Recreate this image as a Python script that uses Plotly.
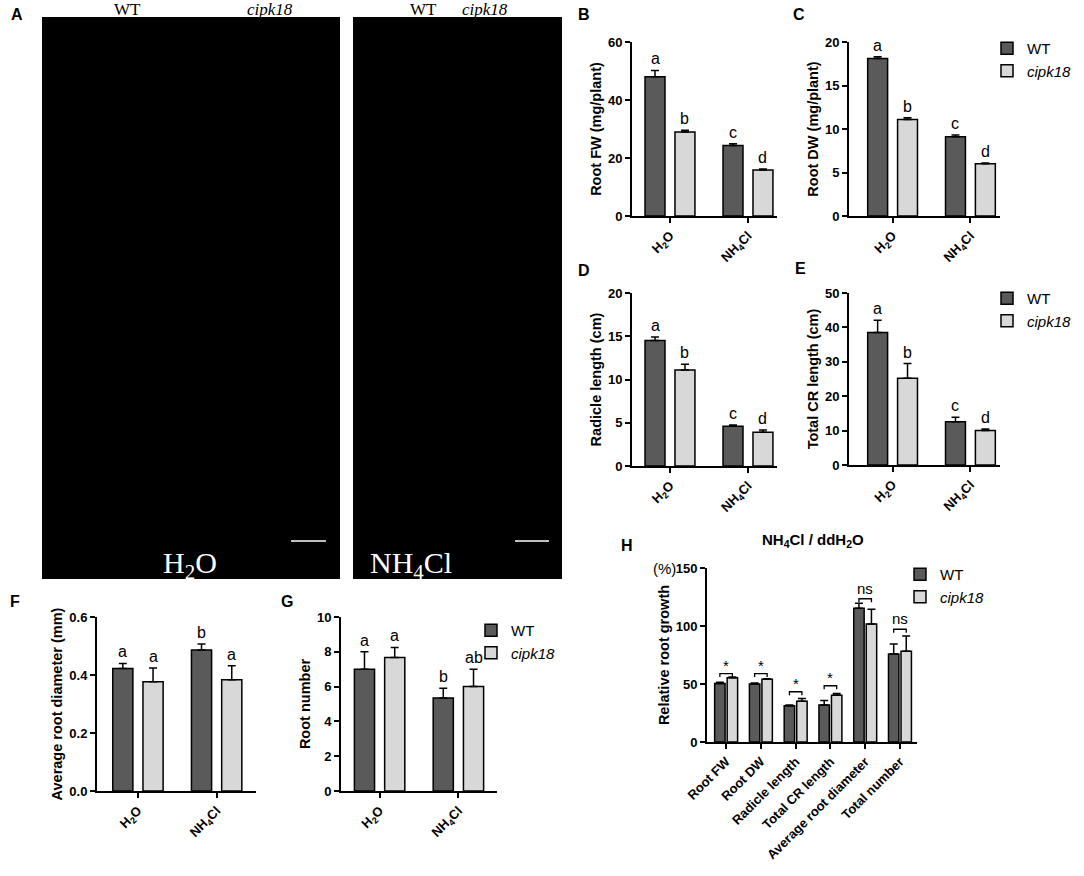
import plotly.graph_objects as go

W, H = 1084, 876

# x categories of panels B-G
conditions = ["H<sub>2</sub>O", "NH<sub>4</sub>Cl"]

# B - root fresh weight (mg/plant)
fw_wt = [48.0, 24.3]
fw_wt_sd = [2.2, 0.6]
fw_cipk = [29.0, 15.9]
fw_cipk_sd = [0.6, 0.3]
fw_letters_wt = ["a", "c"]
fw_letters_cipk = ["b", "d"]

# C - root dry weight (mg/plant)
dw_wt = [18.1, 9.1]
dw_wt_sd = [0.2, 0.2]
dw_cipk = [11.1, 6.0]
dw_cipk_sd = [0.2, 0.1]
dw_letters_wt = ["a", "c"]
dw_letters_cipk = ["b", "d"]

# D - radicle length (cm)
rl_wt = [14.5, 4.6]
rl_wt_sd = [0.4, 0.15]
rl_cipk = [11.1, 3.9]
rl_cipk_sd = [0.65, 0.25]
rl_letters_wt = ["a", "c"]
rl_letters_cipk = ["b", "d"]

# E - total crown root length (cm)
cr_wt = [38.5, 12.6]
cr_wt_sd = [3.6, 1.3]
cr_cipk = [25.2, 10.0]
cr_cipk_sd = [4.3, 0.5]
cr_letters_wt = ["a", "c"]
cr_letters_cipk = ["b", "d"]

# F - average root diameter (mm)
ad_wt = [0.422, 0.486]
ad_wt_sd = [0.018, 0.021]
ad_cipk = [0.377, 0.384]
ad_cipk_sd = [0.047, 0.048]
ad_letters_wt = ["a", "b"]
ad_letters_cipk = ["a", "a"]

# G - root number
rn_wt = [7.0, 5.34]
rn_wt_sd = [1.0, 0.56]
rn_cipk = [7.67, 6.0]
rn_cipk_sd = [0.58, 1.0]
rn_letters_wt = ["a", "b"]
rn_letters_cipk = ["a", "ab"]

# H - relative root growth NH4Cl / ddH2O (%)
traits = ["Root FW", "Root DW", "Radicle length", "Total CR length",
          "Average root diameter", "Total number"]
rel_wt = [50.5, 49.9, 31.2, 32.0, 115.4, 75.9]
rel_wt_sd = [1.1, 0.9, 0.8, 3.8, 4.3, 8.6]
rel_cipk = [55.4, 54.0, 35.2, 40.4, 101.8, 78.2]
rel_cipk_sd = [0.6, 0.5, 2.3, 1.4, 12.7, 13.2]
rel_sig = ["*", "*", "*", "*", "ns", "ns"]
rel_bracket = [59.0, 59.0, 43.3, 48.5, 123.5, 97.2]

WT_COLOR = "#5a5a5a"
CIPK_COLOR = "#d8d8d8"
SANS = "Arial, Liberation Sans, sans-serif"
SERIF = "Times New Roman, Liberation Serif, serif"


def xdom(a, b):
    return [a / W, b / W]


def ydom(top, bottom):
    return [1 - bottom / H, 1 - top / H]


def ax(n):
    return ("x", "y") if n == 1 else (f"x{n}", f"y{n}")


panels = [
    dict(n=1, title="Root FW (mg/plant)", ymax=60, dtick=20, fmt="", xd=(632, 777), yd=(42, 216),
         xr=(-0.487, 1.372), wt=fw_wt, wt_sd=fw_wt_sd, mu=fw_cipk, mu_sd=fw_cipk_sd,
         lw=fw_letters_wt, lm=fw_letters_cipk, legend=None),
    dict(n=2, title="Root DW (mg/plant)", ymax=20, dtick=5, fmt="", xd=(849, 1000), yd=(42, 216),
         xr=(-0.56, 1.38), wt=dw_wt, wt_sd=dw_wt_sd, mu=dw_cipk, mu_sd=dw_cipk_sd,
         lw=dw_letters_wt, lm=dw_letters_cipk, legend="legend"),
    dict(n=3, title="Radicle length (cm)", ymax=20, dtick=5, fmt="", xd=(632, 777), yd=(293, 466),
         xr=(-0.487, 1.372), wt=rl_wt, wt_sd=rl_wt_sd, mu=rl_cipk, mu_sd=rl_cipk_sd,
         lw=rl_letters_wt, lm=rl_letters_cipk, legend=None),
    dict(n=4, title="Total CR length (cm)", ymax=50, dtick=10, fmt="", xd=(849, 1000), yd=(293, 465),
         xr=(-0.56, 1.38), wt=cr_wt, wt_sd=cr_wt_sd, mu=cr_cipk, mu_sd=cr_cipk_sd,
         lw=cr_letters_wt, lm=cr_letters_cipk, legend="legend2"),
    dict(n=5, title="Average root diameter (mm)", ymax=0.6, dtick=0.2, fmt=".1f", xd=(97, 256), yd=(617, 791),
         xr=(-0.52, 1.5), wt=ad_wt, wt_sd=ad_wt_sd, mu=ad_cipk, mu_sd=ad_cipk_sd,
         lw=ad_letters_wt, lm=ad_letters_cipk, legend=None),
    dict(n=6, title="Root number", ymax=10, dtick=2, fmt="", xd=(341, 497), yd=(617, 791),
         xr=(-0.49, 1.49), wt=rn_wt, wt_sd=rn_wt_sd, mu=rn_cipk, mu_sd=rn_cipk_sd,
         lw=rn_letters_wt, lm=rn_letters_cipk, legend="legend3"),
]

fig = go.Figure()
annotations = []
layout_axes = {}


def axis_style(n, p, cats, xr, ymax, dtick, fmt, title):
    xk = "xaxis" if n == 1 else f"xaxis{n}"
    yk = "yaxis" if n == 1 else f"yaxis{n}"
    xa, ya = ax(n)
    common = dict(showline=True, linecolor="black", linewidth=2, ticks="outside", ticklen=5,
                  tickwidth=2, tickcolor="black", showgrid=False, zeroline=False, automargin=False,
                  tickfont=dict(family=SANS, size=13, color="black", weight="bold"))
    layout_axes[xk] = dict(domain=xdom(*p["xd"]), range=list(xr), anchor=ya,
                           tickvals=list(range(len(cats))), ticktext=cats, tickangle=-45, **common)
    layout_axes[yk] = dict(domain=ydom(*p["yd"]), range=[0, ymax], anchor=xa, dtick=dtick,
                           tickformat=fmt,
                           title=dict(text=title, standoff=3,
                                      font=dict(family=SANS, size=14.5, color="black", weight="bold")),
                           **common)


def add_bars(n, cats, wt, wt_sd, mu, mu_sd, off_wt, off_mu, bw, legend):
    xa, ya = ax(n)
    xs = list(range(len(cats)))
    for name, vals, sd, col, off in [("WT", wt, wt_sd, WT_COLOR, off_wt),
                                     ("<i>cipk18</i>", mu, mu_sd, CIPK_COLOR, off_mu)]:
        fig.add_trace(go.Bar(
            x=xs, y=vals, width=bw, offset=off, name=name,
            marker=dict(color=col, line=dict(color="black", width=1.5)),
            error_y=dict(type="data", symmetric=False, array=sd, arrayminus=[0] * len(vals),
                         color="black", thickness=1.5, width=4),
            xaxis=xa, yaxis=ya, showlegend=legend is not None,
            legend=legend if legend else "legend",
        ))


for p in panels:
    n = p["n"]
    xa, ya = ax(n)
    off_wt, off_mu, bw = -0.32, 0.064, 0.256
    axis_style(n, p, conditions, p["xr"], p["ymax"], p["dtick"], p["fmt"], p["title"])
    add_bars(n, conditions, p["wt"], p["wt_sd"], p["mu"], p["mu_sd"], off_wt, off_mu, bw, p["legend"])
    for i in range(len(conditions)):
        for vals, sd, letters, off in [(p["wt"], p["wt_sd"], p["lw"], off_wt),
                                       (p["mu"], p["mu_sd"], p["lm"], off_mu)]:
            annotations.append(dict(x=i + off + bw / 2, y=vals[i] + sd[i], xref=xa, yref=ya,
                                    text=letters[i], showarrow=False, yanchor="bottom", yshift=1,
                                    font=dict(family=SANS, size=16, color="black")))

# panel H
ph = dict(xd=(707, 917), yd=(568, 742))
axis_style(7, ph, traits, (-0.55, 5.49), 150, 50, "", "Relative root growth")
h_off_wt, h_off_mu, h_bw = -0.33, 0.03, 0.30
add_bars(7, traits, rel_wt, rel_wt_sd, rel_cipk, rel_cipk_sd, h_off_wt, h_off_mu, h_bw, "legend4")
bx, by = [], []
c_wt = h_off_wt + h_bw / 2
c_mu = h_off_mu + h_bw / 2
for i, b in enumerate(rel_bracket):
    bx += [i + c_wt, i + c_wt, i + c_mu, i + c_mu, None]
    by += [b - 3, b, b, b - 3, None]
    annotations.append(dict(x=i, y=b, xref="x7", yref="y7", text=rel_sig[i], showarrow=False,
                            yanchor="bottom", yshift=-2 if rel_sig[i] == "*" else 0,
                            font=dict(family=SANS, size=15, color="black")))
fig.add_trace(go.Scatter(x=bx, y=by, mode="lines", line=dict(color="black", width=1.3),
                         xaxis="x7", yaxis="y7", showlegend=False, hoverinfo="skip"))


def note(x, y, text, size=16, family=SANS, color="black", bold=False, **kw):
    annotations.append(dict(x=x / W, y=1 - y / H, xref="paper", yref="paper", text=text,
                            showarrow=False, xanchor=kw.get("xanchor", "center"), yanchor="middle",
                            font=dict(family=family, size=size, color=color,
                                      weight="bold" if bold else "normal")))


# panel letters
for letter, x, y in [("A", 17, 14), ("B", 584, 14), ("C", 799, 14), ("D", 584, 270),
                     ("E", 800, 268), ("F", 15, 601), ("G", 287, 601), ("H", 627, 545)]:
    note(x, y, letter, size=16, bold=True)

note(813, 540, "NH<sub>4</sub>Cl / ddH<sub>2</sub>O", size=15, bold=True)
note(664, 568, "(%)", size=15)

# panel A photo frames and labels
shapes = []
for x0, x1 in [(42, 340), (353, 562)]:
    shapes.append(dict(type="rect", xref="paper", yref="paper", x0=x0 / W, x1=x1 / W,
                       y0=1 - 579 / H, y1=1 - 17 / H, fillcolor="black", line=dict(width=0),
                       layer="below"))
for x0, x1 in [(291, 326), (515, 549)]:
    shapes.append(dict(type="line", xref="paper", yref="paper", x0=x0 / W, x1=x1 / W,
                       y0=1 - 541 / H, y1=1 - 541 / H, line=dict(color="white", width=1.5)))

note(127, 10, "WT", size=17, family=SERIF)
note(270, 10, "<i>cipk18</i>", size=17, family=SERIF)
note(423, 10, "WT", size=17, family=SERIF)
note(485, 10, "<i>cipk18</i>", size=17, family=SERIF)
note(190, 565, "H<sub>2</sub>O", size=30, family=SERIF, color="white")
note(411, 565, "NH<sub>4</sub>Cl", size=30, family=SERIF, color="white")

legend_style = dict(font=dict(family=SANS, size=15, color="black"), bgcolor="rgba(0,0,0,0)",
                    xanchor="left", yanchor="top", tracegroupgap=2, itemwidth=30)

fig.update_layout(
    width=W, height=H,
    margin=dict(l=0, r=0, t=0, b=0),
    paper_bgcolor="white", plot_bgcolor="white",
    barmode="overlay",
    annotations=annotations,
    shapes=shapes,
    legend=dict(x=987 / W, y=1 - 32 / H, **legend_style),
    legend2=dict(x=987 / W, y=1 - 282 / H, **legend_style),
    legend3=dict(x=471 / W, y=1 - 614 / H, **legend_style),
    legend4=dict(x=900 / W, y=1 - 558 / H, **legend_style),
    **layout_axes,
)

# drop the default page margin so the figure sits at the window's corner
fig.write_html("out.html", config={"displayModeBar": False},
               post_script="document.body.style.margin = '0';")
